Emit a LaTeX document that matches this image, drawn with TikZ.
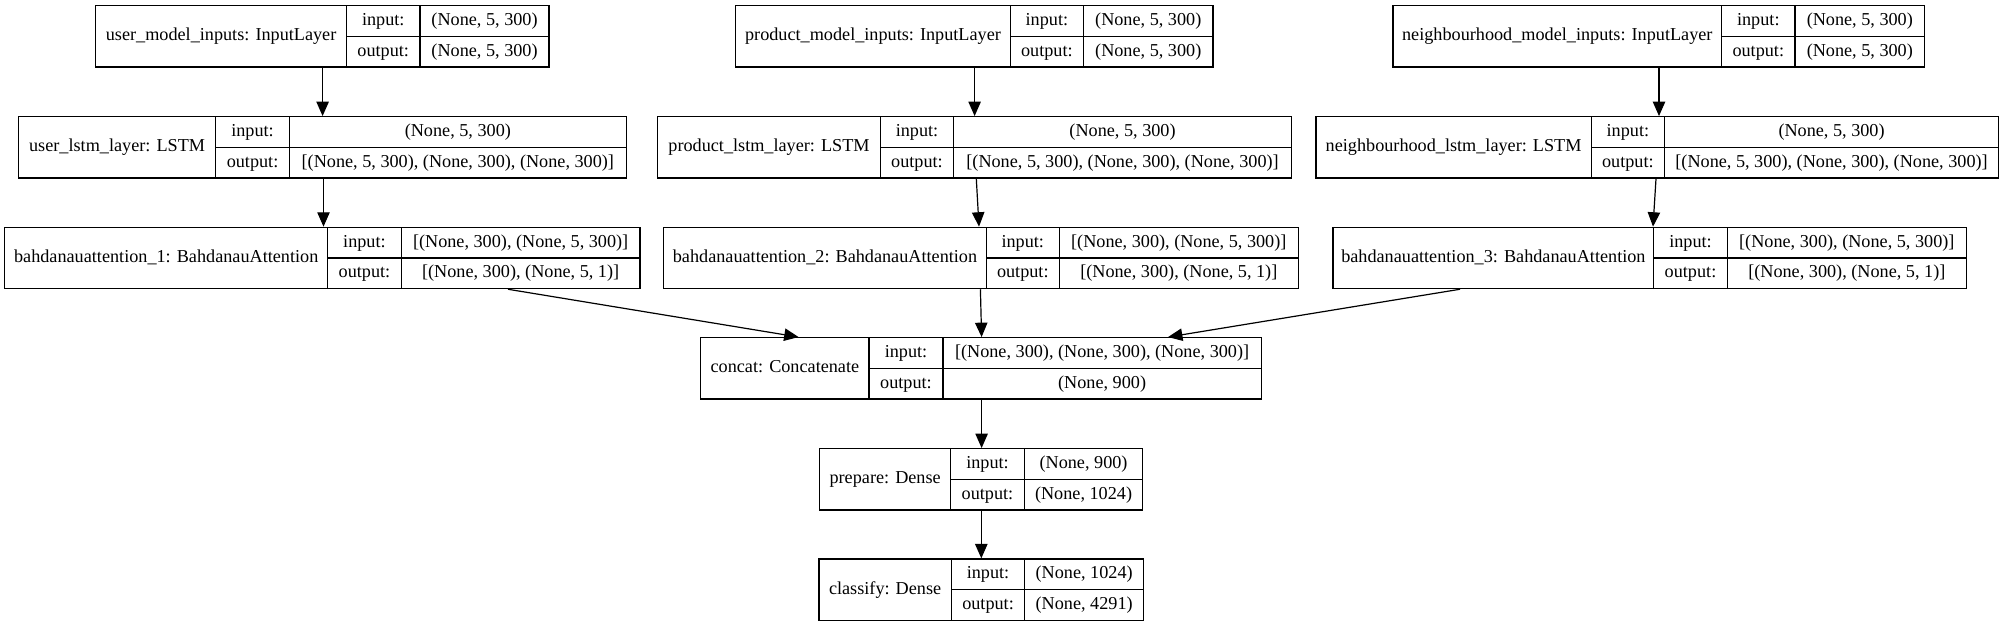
\documentclass[tikz,border=0pt]{standalone}
\usepackage{fontspec}
\setmainfont{Liberation Serif}
\usetikzlibrary{arrows.meta,fit}
\tikzset{
  boxline/.style={line width=0.65pt, draw=black},
  outerbox/.style={boxline, inner sep=0pt, fit={#1}},
  txt/.style={inner sep=0pt, font=\fontsize{9.1pt}{11pt}\selectfont, text height=6.4pt, text depth=1.9pt},
  conn/.style={line width=0.6pt, -{Triangle[length=7.2pt,width=6.2pt]}}
}
% #1 name, #2 x0, #3 x1, #4 x2, #5 x3, #6 ytop, #7 label, #8 input, #9 output
\newcommand{\klayer}[9]{%
  \node[outerbox={(#2,#6) (#5,{#6+61.3})}] (#1) {};
  \draw[boxline] (#3,#6) -- (#3,{#6+61.3});
  \draw[boxline] (#4,#6) -- (#4,{#6+61.3});
  \draw[boxline] (#3,{#6+30.65}) -- (#5,{#6+30.65});
  \node[txt] (#1-label) at ({(#2+#3)/2},{#6+30.65}) {#7};
  \node[txt] (#1-inl) at ({(#3+#4)/2},{#6+15.3}) {input:};
  \node[txt] (#1-outl) at ({(#3+#4)/2},{#6+46}) {output:};
  \node[txt] (#1-inv) at ({(#4+#5)/2},{#6+15.3}) {#8};
  \node[txt] (#1-outv) at ({(#4+#5)/2},{#6+46}) {#9};
}
\begin{document}
\begin{tikzpicture}[x=0.5pt,y=-0.5pt]
\useasboundingbox (0,0) rectangle (2007,627);
% row 1
\klayer{umi}{95.7}{346.5}{420.0}{549.1}{5.7}{user\_model\_inputs: InputLayer}{(None, 5, 300)}{(None, 5, 300)}
\klayer{pmi}{735.7}{1010.3}{1083.5}{1213}{5.7}{product\_model\_inputs: InputLayer}{(None, 5, 300)}{(None, 5, 300)}
\klayer{nmi}{1393}{1721.6}{1795}{1924.6}{5.7}{neighbourhood\_model\_inputs: InputLayer}{(None, 5, 300)}{(None, 5, 300)}
% row 2
\klayer{ul}{18.4}{215.8}{289.3}{626.4}{116.7}{user\_lstm\_layer: LSTM}{(None, 5, 300)}{[(None, 5, 300), (None, 300), (None, 300)]}
\klayer{pl}{657.6}{880.4}{953.6}{1291.5}{116.7}{product\_lstm\_layer: LSTM}{(None, 5, 300)}{[(None, 5, 300), (None, 300), (None, 300)]}
\klayer{nl}{1316}{1591.2}{1664.6}{1998.5}{116.7}{neighbourhood\_lstm\_layer: LSTM}{(None, 5, 300)}{[(None, 5, 300), (None, 300), (None, 300)]}
% row 3
\klayer{ba}{4.7}{327.7}{401.2}{640.1}{227.3}{bahdanauattention\_1: BahdanauAttention}{[(None, 300), (None, 5, 300)]}{[(None, 300), (None, 5, 1)]}
\klayer{bb}{663.8}{986.2}{1059.4}{1298.2}{227.3}{bahdanauattention\_2: BahdanauAttention}{[(None, 300), (None, 5, 300)]}{[(None, 300), (None, 5, 1)]}
\klayer{bc}{1333}{1653.8}{1727.2}{1966.4}{227.3}{bahdanauattention\_3: BahdanauAttention}{[(None, 300), (None, 5, 300)]}{[(None, 300), (None, 5, 1)]}
% row 4-6
\klayer{cc}{700.7}{869.1}{942.9}{1261.3}{337.7}{concat: Concatenate}{[(None, 300), (None, 300), (None, 300)]}{(None, 900)}
\klayer{pr}{819.7}{950.6}{1024.4}{1142.7}{448.7}{prepare: Dense}{(None, 900)}{(None, 1024)}
\klayer{cl}{818.9}{951.3}{1024.8}{1143.5}{559}{classify: Dense}{(None, 1024)}{(None, 4291)}
% connectors
\draw[conn] (umi.south -| 322.6,0) -- (ul.north -| 322.6,0);
\draw[conn] (ul.south -| 323.5,0) -- (ba.north -| 323.5,0);
\draw[conn] (pmi.south -| 974.6,0) -- (pl.north -| 974.6,0);
\draw[conn] (pl.south -| 976.3,0) -- (bb.north -| 979,0);
\draw[conn] (nmi.south -| 1659,0) -- (nl.north -| 1659,0);
\draw[conn] (nl.south -| 1656,0) -- (bc.north -| 1653,0);
\draw[conn] (ba.south -| 508,0) -- (cc.north -| 798.6,0);
\draw[conn] (bb.south -| 980.4,0) -- (cc.north -| 981.6,0);
\draw[conn] (bc.south -| 1460,0) -- (cc.north -| 1168,0);
\draw[conn] (cc.south -| 981.6,0) -- (pr.north -| 981.6,0);
\draw[conn] (pr.south -| 981.3,0) -- (cl.north -| 981.3,0);
\end{tikzpicture}
\end{document}
